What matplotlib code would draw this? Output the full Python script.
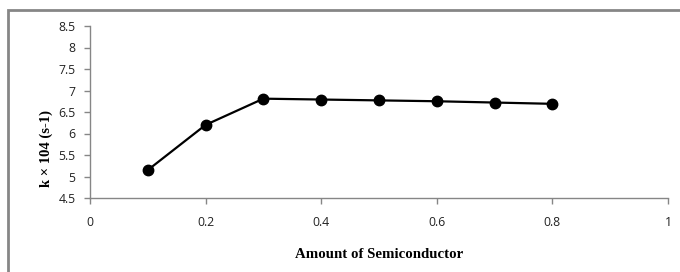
import matplotlib
matplotlib.use("Agg")
import matplotlib.pyplot as plt
from matplotlib.patches import Rectangle

amount = [0.1, 0.2, 0.3, 0.4, 0.5, 0.6, 0.7, 0.8]
k_values = [5.15, 6.2, 6.81, 6.79, 6.77, 6.75, 6.72, 6.69]
x_ticks = [0, 0.2, 0.4, 0.6, 0.8, 1]
y_ticks = [4.5, 5, 5.5, 6, 6.5, 7, 7.5, 8, 8.5]

fig = plt.figure(figsize=(6.8, 2.72), dpi=100)
# outer chart border (cut off on the right and bottom)
fig.patches.append(Rectangle((8 / 680, -0.1), 1.0, (262 / 272) + 0.1,
                             transform=fig.transFigure, fill=False,
                             edgecolor="#868686", linewidth=2))

ax = fig.add_axes([90 / 680, 1 - 198 / 272, 578 / 680, 172 / 272])
ax.plot(amount, k_values, color="black", linewidth=1.6,
        marker="o", markersize=7.5)

ax.set_xlim(0, 1)
ax.set_ylim(4.5, 8.5)
ax.set_xticks(x_ticks)
ax.set_xticklabels([f"{t:g}" for t in x_ticks])
ax.set_yticks(y_ticks)
ax.set_yticklabels([f"{t:g}" for t in y_ticks])

for s in ["top", "right"]:
    ax.spines[s].set_visible(False)
for s in ["left", "bottom"]:
    ax.spines[s].set_color("#868686")
    ax.spines[s].set_linewidth(1)
ax.tick_params(axis="both", direction="out", length=4, width=1,
               color="#868686", labelsize=8.8, labelcolor="#222222")
ax.tick_params(axis="x", pad=9)
ax.tick_params(axis="y", pad=6.5)
for lbl in ax.get_xticklabels() + ax.get_yticklabels():
    lbl.set_family("Open Sans")

ax.set_xlabel("Amount of Semiconductor", family="Liberation Serif",
              fontweight="bold", fontsize=10.7)
ax.xaxis.set_label_coords(0.5, -0.29)
ax.set_ylabel("k × 104 (s-1)", family="Liberation Serif",
              fontweight="bold", fontsize=10.5)
ax.yaxis.set_label_coords(-0.064, 0.285)

fig.savefig("out.png", dpi=100)
